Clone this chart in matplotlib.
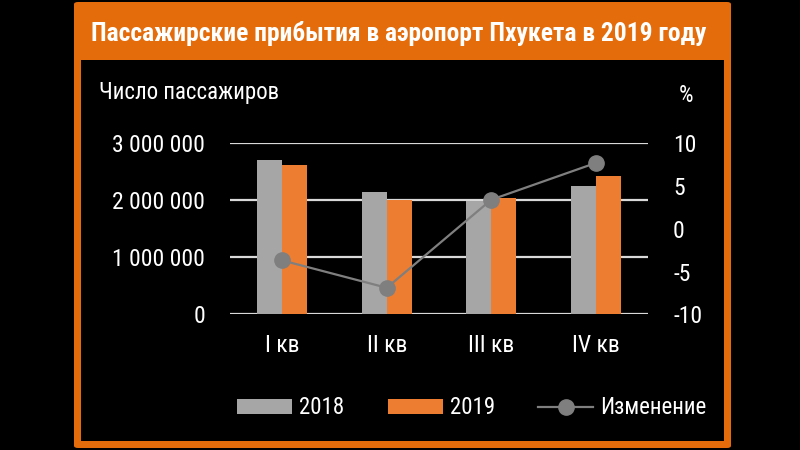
import matplotlib
matplotlib.use('Agg')
import matplotlib.pyplot as plt
import numpy as np
from matplotlib import font_manager
from matplotlib.patches import FancyBboxPatch, Rectangle
from matplotlib.lines import Line2D
from matplotlib.patches import Patch

# Data
quarters = ['I кв', 'II кв', 'III кв', 'IV кв']
arrivals_2018 = [2710000, 2140000, 1990000, 2250000]
arrivals_2019 = [2620000, 2000000, 2040000, 2430000]
change_pct = [-3.7, -6.9, 3.4, 7.7]
left_ticks = [0, 1000000, 2000000, 3000000]
left_tick_labels = ['0', '1 000 000', '2 000 000', '3 000 000']
right_ticks = [-10, -5, 0, 5, 10]
right_tick_labels = ['-10', '-5', '0', '5', '10']

ORANGE_FRAME = '#e46c0a'
ORANGE_BAR = '#ed7d31'
GRAY_BAR = '#a6a6a6'
GRAY_LINE = '#7f7f7f'


def pick_font():
    names = {f.name for f in font_manager.fontManager.ttflist}
    for cand in ['Roboto Condensed', 'Noto Sans Condensed', 'Liberation Sans Narrow',
                 'DejaVu Sans Condensed', 'Open Sans Condensed']:
        if cand in names:
            return cand
    return 'DejaVu Sans'


FONT = pick_font()
plt.rcParams['font.family'] = [FONT, 'DejaVu Sans']

fig = plt.figure(figsize=(8, 4.5), dpi=100)
fig.patch.set_facecolor('black')

# orange frame and title banner
fig.patches.append(FancyBboxPatch((74 / 800, 1 - 448 / 450), (731 - 74) / 800, (448 - 2) / 450,
                                  boxstyle='round,pad=0,rounding_size=0.005',
                                  transform=fig.transFigure, facecolor=ORANGE_FRAME,
                                  edgecolor='none', zorder=0))
fig.patches.append(Rectangle((81 / 800, 1 - 441 / 450), (724 - 81) / 800, (441 - 60) / 450,
                             transform=fig.transFigure, facecolor='black',
                             edgecolor='none', zorder=1))

title = fig.text(91 / 800, 1 - 41 / 450, 'Пассажирские прибытия в аэропорт Пхукета в 2019 году',
                 color='white', fontsize=22, fontweight='bold', ha='left', va='baseline')
fig.canvas.draw()
w = title.get_window_extent().width
title.set_fontsize(22 * 614 / w)

ax = fig.add_axes([230 / 800, 1 - 314.3 / 450, (648 - 230) / 800, (314.3 - 143.3) / 450])
ax.set_facecolor('none')
ax.set_zorder(2)

x = np.arange(len(quarters))
bw = 0.24
ax.bar(x - bw / 2, arrivals_2018, bw, color=GRAY_BAR, zorder=3, label='2018')
ax.bar(x + bw / 2, arrivals_2019, bw, color=ORANGE_BAR, zorder=3, label='2019')

ax.set_xlim(-0.5, len(quarters) - 0.5)
ax.set_ylim(0, 3000000)
ax.set_yticks(left_ticks)
ax.set_yticklabels(left_tick_labels)
ax.set_xticks(x)
ax.set_xticklabels(quarters)
ax.grid(axis='y', color='#d9d9d9', linewidth=1.6, zorder=0)
ax.set_axisbelow(True)
for s in ax.spines.values():
    s.set_visible(False)
ax.tick_params(axis='both', length=0, colors='white', labelsize=17)
ax.tick_params(axis='y', pad=18)
ax.tick_params(axis='x', pad=14)

ax2 = ax.twinx()
ax2.plot(x, change_pct, color=GRAY_LINE, linewidth=1.6, marker='o', markersize=11,
         markerfacecolor=GRAY_LINE, markeredgecolor=GRAY_LINE, zorder=5)
ax2.set_ylim(-10, 10)
ax2.set_yticks(right_ticks)
ax2.set_yticklabels(right_tick_labels)
for s in ax2.spines.values():
    s.set_visible(False)
ax2.tick_params(axis='y', length=0, colors='white', labelsize=17, pad=18)

fig.text(99 / 800, 1 - 92 / 450, 'Число пассажиров', color='white', fontsize=16.5,
         ha='left', va='center')
fig.text(686 / 800, 1 - 95 / 450, '%', color='white', fontsize=16.5, ha='center', va='center')

handles = [Patch(facecolor=GRAY_BAR, edgecolor='none'),
           Patch(facecolor=ORANGE_BAR, edgecolor='none'),
           Line2D([], [], color=GRAY_LINE, linewidth=1.6, marker='o', markersize=11)]
fig.legend(handles, ['2018', '2019', 'Изменение'], loc='center', ncol=3,
           bbox_to_anchor=(472 / 800, 1 - 408 / 450), frameon=False, fontsize=16.5,
           labelcolor='white', handlelength=2.4, handleheight=0.65, handletextpad=0.3,
           columnspacing=1.9)

fig.savefig('out.png', dpi=100, facecolor='black')
